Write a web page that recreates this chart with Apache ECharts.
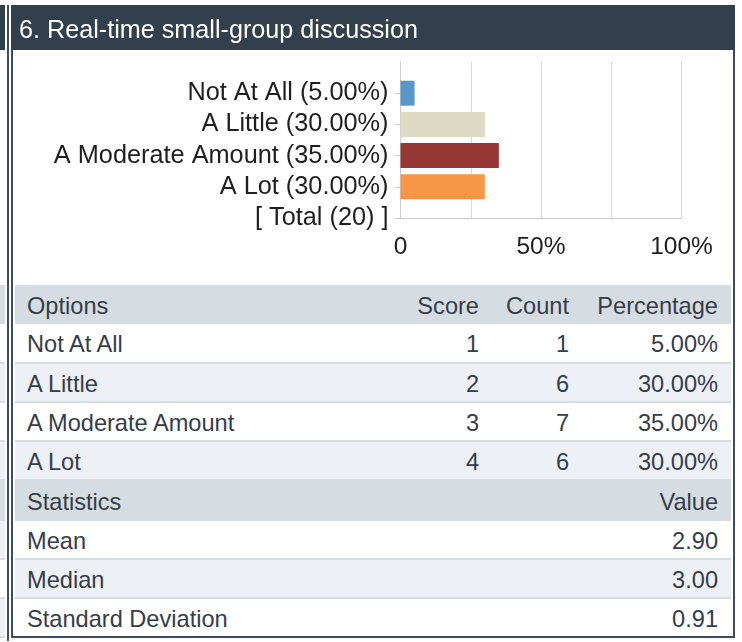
<!DOCTYPE html>
<html><head><meta charset="utf-8">
<script src="https://cdn.jsdelivr.net/npm/echarts@6/dist/echarts.min.js"></script>
<style>
html,body{margin:0;padding:0;background:#fff;width:742px;height:642px;overflow:hidden;font-family:'Liberation Sans',Arial,sans-serif;}
.abs{position:absolute;box-sizing:border-box;}
.row{position:absolute;left:15px;width:716px;box-sizing:border-box;color:#353d49;font-size:23.6px;}
.row span{position:absolute;white-space:nowrap;}
</style>
</head><body>
<div class="abs" style="left:0;top:5px;width:5px;height:45px;background:#343f4e;"></div>
<div class="abs" style="left:7px;top:5px;width:2px;height:636px;background:#3f4c5e;"></div>
<div id="sliver"></div>
<div class="abs" style="left:11px;top:5px;width:724px;height:633px;border:2px solid #3f4c5e;"></div>
<div class="abs" style="left:11px;top:5px;width:724px;height:45px;background:#343f4e;"></div>
<div id="table"></div>
<div id="chart" class="abs" style="left:0;top:0;width:742px;height:285px;z-index:2;"></div>
<script>
// ---- data ----
const titleText = '6. Real-time small-group discussion';
const categories = ['Not At All', 'A Little', 'A Moderate Amount', 'A Lot'];
const scores = [1, 2, 3, 4];
const counts = [1, 6, 7, 6];
const percentages = [5.00, 30.00, 35.00, 30.00];
const total = 20;
const barColors = ['#5797c9', '#ddd9c3', '#953735', '#f79646'];
const xTickLabels = {0: '0', 50: '50%', 100: '100%'};
const tableHeader = ['Options', 'Score', 'Count', 'Percentage'];
const statHeader = ['Statistics', 'Value'];
const statNames = ['Mean', 'Median', 'Standard Deviation'];
const statValues = ['2.90', '3.00', '0.91'];

// ---- table (HTML) ----
const FONT = "'Liberation Sans', Arial, sans-serif";
const rowTop = 285, rowH = 39.25;
const rows = [];
rows.push({cells: tableHeader, head: true});
categories.forEach((c, i) => rows.push({cells: [c, String(scores[i]), String(counts[i]), percentages[i].toFixed(2) + '%']}));
rows.push({cells: [statHeader[0], '', '', statHeader[1]], head: true});
statNames.forEach((s, i) => rows.push({cells: [s, '', '', statValues[i]]}));
const rightEdges = [null, 252, 162, 13];
let html = '';
let dataIdx = 0;
rows.forEach((r, i) => {
  const top = rowTop + i * rowH;
  const h = (i === rows.length - 1) ? (636 - top) : rowH;
  let bg;
  if (r.head) { bg = '#d6dde2'; dataIdx = 0; }
  else { bg = (dataIdx % 2 === 0) ? '#ffffff' : '#edf1f5'; dataIdx++; }
  const border = (!r.head && i !== rows.length - 1) ? 'border-bottom:2px solid #d5dce2;' : '';
  html += `<div class="row" style="top:${top}px;height:${h}px;background:${bg};${border}line-height:${h - (border ? 2 : 0) + 4}px;">`;
  r.cells.forEach((t, k) => {
    if (!t) return;
    if (k === 0) html += `<span style="left:12px;">${t}</span>`;
    else html += `<span style="right:${rightEdges[k]}px;">${t}</span>`;
  });
  html += '</div>';
});
document.getElementById('table').innerHTML = html;
// left sliver of the neighbouring panel
let sl = '';
rows.forEach((r, i) => {
  const top = rowTop + i * rowH;
  const bg = r.head ? '#d6dde2' : (i % 2 === 0 ? '#edf1f5' : '#ffffff');
  sl += `<div class="abs" style="left:0;top:${top}px;width:5px;height:${rowH}px;background:${bg};border-bottom:2px solid #d5dce2;"></div>`;
});
document.getElementById('sliver').innerHTML = sl;

// ---- chart ----
const yLabels = [''].concat(categories.map((c, i) => `${c} (${percentages[i].toFixed(2)}%)`), [`[ Total (${total}) ]`]);
const barData = ['-'].concat(percentages.map((v, i) => ({value: v, itemStyle: {color: barColors[i]}})), ['-']);

const chart = echarts.init(document.getElementById('chart'), null, {renderer: 'canvas'});
chart.setOption({
  animation: false,
  backgroundColor: 'transparent',
  title: {
    text: titleText, left: 19, top: 19, padding: 0,
    textStyle: {color: '#ffffff', fontSize: 25.2, fontWeight: 'normal', fontFamily: FONT}
  },
  grid: {left: 400.5, top: 62, width: 281, height: 156, outerBoundsMode: 'none'},
  xAxis: {
    type: 'value', min: 0, max: 100, interval: 25,
    axisLine: {show: true, lineStyle: {color: '#cccccc', width: 1}},
    axisTick: {show: false},
    splitLine: {show: true, lineStyle: {color: '#d9d9d9', width: 1}},
    axisLabel: {
      margin: 17, color: '#1f1f1f', fontSize: 24.5, fontFamily: FONT,
      formatter: v => (xTickLabels[v] !== undefined ? xTickLabels[v] : '')
    }
  },
  yAxis: {
    type: 'category', inverse: true, boundaryGap: false, data: yLabels,
    axisLine: {show: true, lineStyle: {color: '#cccccc', width: 1}},
    axisTick: {show: true, length: 6, interval: (idx) => idx !== 0, lineStyle: {color: '#cccccc'}},
    splitLine: {show: false},
    axisLabel: {interval: 0, margin: 12, color: '#1f1f1f', fontSize: 25.3, fontFamily: FONT}
  },
  series: [{
    type: 'bar', data: barData, barWidth: 25, silent: true
  }]
});
</script>
</body></html>
